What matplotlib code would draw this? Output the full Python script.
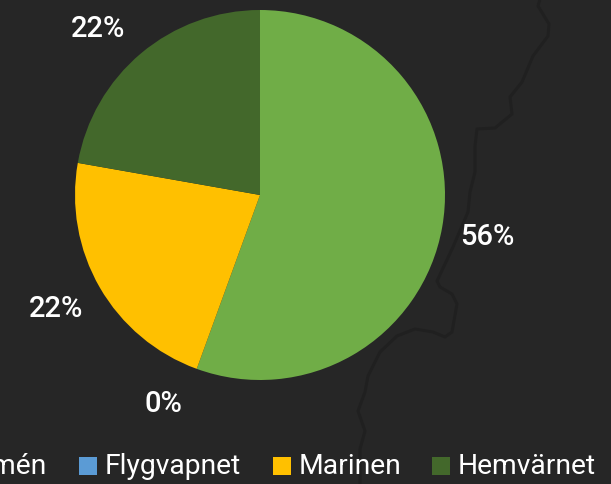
import matplotlib
matplotlib.use("Agg")
import matplotlib.pyplot as plt
from matplotlib.patches import Rectangle

FONT = 'Roboto'

categories = ['Armén', 'Flygvapnet', 'Marinen', 'Hemvärnet']
values = [5, 0, 2, 2]
colors = ['#70AD47', '#5B9BD5', '#FFC000', '#43682B']
legend_swatch_x = [-62, 79, 273, 432]
label_offsets = [(0, -1), (-17, 9), (-4, 3), (-13, -10)]
coast_x = [540, 538, 549, 548, 533, 522, 510, 512, 495, 477, 475, 475, 470, 468, 453, 437, 440,
           452, 457, 452, 445, 433, 415, 397, 380, 368, 365, 358, 365, 360, 360]
coast_y = [0, 7, 25, 37, 57, 83, 98, 115, 129, 130, 147, 173, 193, 213, 248, 282, 288,
           295, 305, 333, 338, 333, 330, 337, 353, 377, 393, 412, 432, 450, 485]

W, H = 611, 485
BG = '#262626'
fig = plt.figure(figsize=(W / 100, H / 100), dpi=100, facecolor=BG)

bg = fig.add_axes([0, 0, 1, 1])
bg.set_xlim(0, W)
bg.set_ylim(H, 0)
bg.axis('off')
bg.plot(coast_x, coast_y, color='#202020', lw=2.2, solid_joinstyle='round')

ax = fig.add_axes([75 / W, 1 - 381 / H, 370 / W, 370 / H])
wedges, _, autotexts = ax.pie(
    values, colors=colors, startangle=90, counterclock=False, radius=1,
    autopct='%.0f%%', pctdistance=1.25,
    textprops=dict(color='white', fontsize=21, family=FONT, weight='medium'))
ax.set_xlim(-1, 1)
ax.set_ylim(-1, 1)
for t, (dx, dy) in zip(autotexts, label_offsets):
    x, y = t.get_position()
    t.set_position((x + dx / 185, y + dy / 185))
    t.set_clip_on(False)

for name, color, x in zip(categories, colors, legend_swatch_x):
    bg.add_patch(Rectangle((x, 458), 18, 18, facecolor=color, edgecolor='none'))
    bg.text(x + 26, 467, name, color='white', fontsize=20.3, family=FONT,
            va='center', ha='left')

fig.savefig('out.png', dpi=100, facecolor=BG)
